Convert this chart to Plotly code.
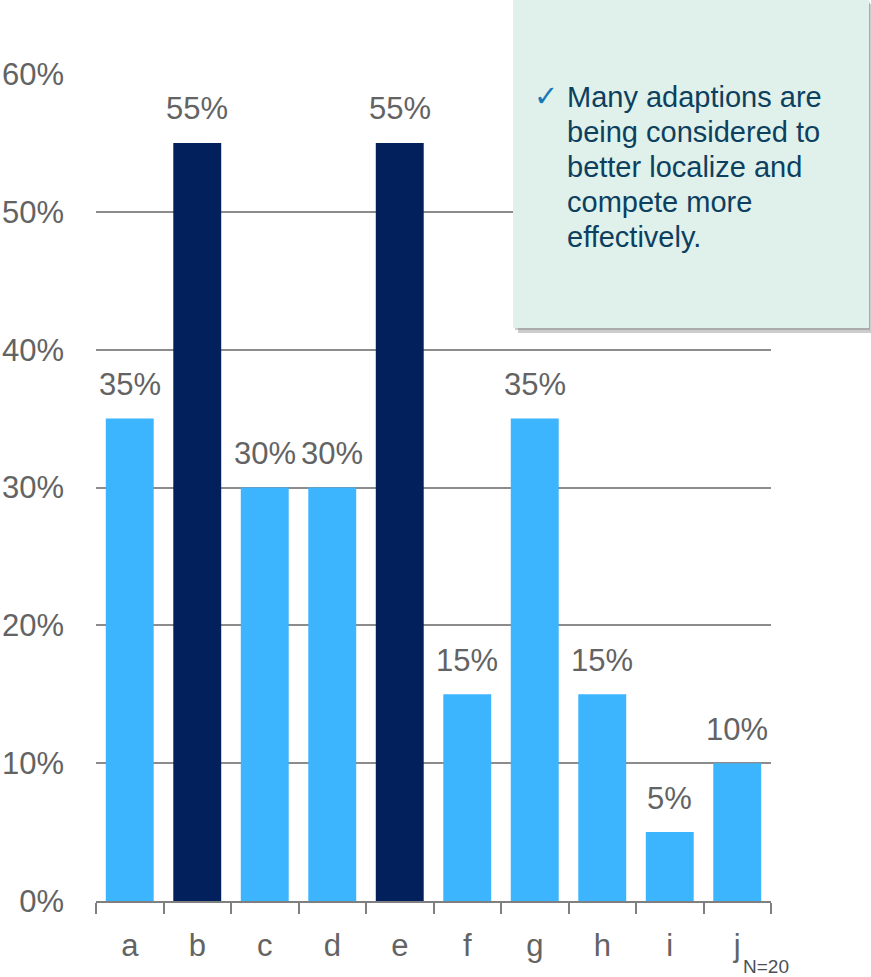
import plotly.graph_objects as go

categories = ["a", "b", "c", "d", "e", "f", "g", "h", "i", "j"]
values = [35, 55, 30, 30, 55, 15, 35, 15, 5, 10]
highlight = [False, True, False, False, True, False, False, False, False, False]
y_ticks = [0, 10, 20, 30, 40, 50, 60]
y_tick_labels = [f"{v}%" for v in y_ticks]
note_lines = ["Many adaptions are", "being considered to", "better localize and",
              "compete more", "effectively."]
sample_note = "N=20"

LIGHT = "#3cb4fe"
DARK = "#02215c"
GRAY_TXT = "#636363"
FONT = "Liberation Sans Narrow, Arial Narrow, Liberation Sans, Arial, sans-serif"
FS = 31

W, H = 871, 977
ML, MR, MT, MB = 96, 100, 74, 76
PW = W - ML - MR
PH = H - MT - MB

def px_x(p):
    return (p - ML) / PW

def px_y(p):
    return (H - MB - p) / PH

fig = go.Figure()
fig.add_trace(go.Bar(
    x=categories, y=values,
    marker=dict(color=[DARK if h else LIGHT for h in highlight], line=dict(width=0)),
    width=0.71,
    hoverinfo="x+y",
))

for c, v in zip(categories, values):
    fig.add_annotation(x=c, y=v, xref="x", yref="y", text=f"{v}%", showarrow=False,
                       yanchor="middle", yshift=34,
                       font=dict(family=FONT, size=FS, color=GRAY_TXT))

fig.update_layout(
    width=W, height=H,
    margin=dict(l=ML, r=MR, t=MT, b=MB, autoexpand=False),
    paper_bgcolor="white", plot_bgcolor="white",
    showlegend=False,
    xaxis=dict(
        type="category", showgrid=False, showline=True, linecolor="#7f7f7f", linewidth=2,
        ticks="outside", tickson="boundaries", ticklen=11, tickwidth=2, tickcolor="#7f7f7f",
        tickfont=dict(family=FONT, size=FS, color=GRAY_TXT),
        ticklabelstandoff=16,
    ),
    yaxis=dict(
        range=[0, 60], tickvals=y_ticks, ticktext=y_tick_labels,
        showgrid=True, gridcolor="#8c8c8c", gridwidth=2,
        zeroline=False, showline=False, ticks="",
        tickfont=dict(family=FONT, size=FS, color=GRAY_TXT),
        ticklabelstandoff=31,
    ),
)

# note box with shadow
bx0, bx1, by0, by1 = 513, 869, 0, 328
fig.add_shape(type="rect", xref="paper", yref="paper",
              x0=px_x(bx0 + 5), x1=px_x(bx1 + 3), y0=px_y(by1 + 5), y1=px_y(by0 + 4),
              fillcolor="rgba(110,110,110,0.35)", line=dict(width=0), layer="above")
fig.add_shape(type="rect", xref="paper", yref="paper",
              x0=px_x(bx0 + 2), x1=px_x(bx1 + 1), y0=px_y(by1 + 2), y1=px_y(by0 + 2),
              fillcolor="rgba(110,110,110,0.35)", line=dict(width=0), layer="above")
fig.add_shape(type="rect", xref="paper", yref="paper",
              x0=px_x(bx0), x1=px_x(bx1), y0=px_y(by1), y1=px_y(by0),
              fillcolor="#dff1ea", line=dict(width=0), layer="above")

fig.add_annotation(xref="paper", yref="paper", x=px_x(532), y=px_y(96),
                   xanchor="left", yanchor="middle", showarrow=False,
                   text="✓", font=dict(family="DejaVu Sans, sans-serif", size=29, color="#1a78b8"))
for i, line in enumerate(note_lines):
    fig.add_annotation(xref="paper", yref="paper", x=px_x(565), y=px_y(97 + 35 * i),
                       xanchor="left", yanchor="middle", align="left", showarrow=False,
                       text=line,
                       font=dict(family="Liberation Sans, Arial, sans-serif", size=29, color="#0d3f5f"))

fig.add_annotation(xref="paper", yref="paper", x=px_x(741), y=px_y(966),
                   xanchor="left", yanchor="middle", showarrow=False,
                   text=sample_note,
                   font=dict(family=FONT, size=19, color="#4a4f57"))

fig.write_html("out.html")
